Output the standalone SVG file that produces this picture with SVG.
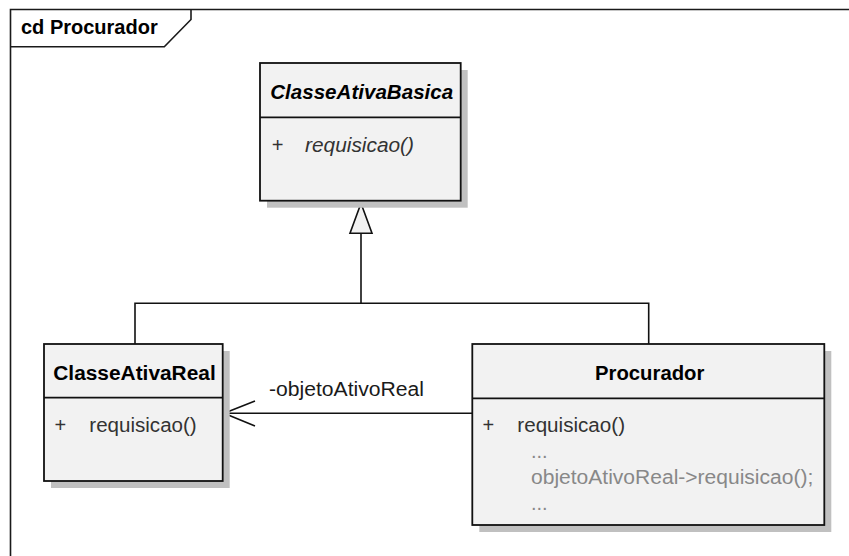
<svg xmlns="http://www.w3.org/2000/svg" width="849" height="556" viewBox="0 0 849 556">
  <style>
    .frame { fill: none; stroke: #1a1a1a; stroke-width: 1.6; }
    .shadow { fill: #c0c0c0; stroke: none; }
    .box { fill: #f2f2f2; stroke: #111; stroke-width: 1.8; }
    .sep { stroke: #111; stroke-width: 1.8; }
    .edge { fill: none; stroke: #111; stroke-width: 1.6; }
    text { font-family: "Liberation Sans", Arial, sans-serif; font-size: 20px; }
    .title { font-weight: bold; fill: #000; text-anchor: middle; }
    .abstract { font-style: italic; }
    .member { fill: #333; }
    .code { fill: #888; }
    .label { fill: #1a1a1a; }
  </style>

  <!-- diagram frame with name tab -->
  <g id="frame">
    <path class="frame" d="M10.5 556 V9.5 H849"/>
    <path class="frame" d="M10.5 46.7 H164.3 L191 19.5 V9.5"/>
    <text x="21" y="34.3" font-weight="bold" textLength="136.7" lengthAdjust="spacingAndGlyphs">cd Procurador</text>
  </g>

  <!-- connectors -->
  <g id="connectors">
    <!-- generalization tree -->
    <path class="edge" d="M135 344 V303.3 H648.7 V344"/>
    <path class="edge" d="M361 303.3 V233.3"/>
    <polygon points="361,203.3 350,233.3 372,233.3" fill="#f2f2f2" stroke="#111" stroke-width="1.6"/>
    <!-- directed association -->
    <path class="edge" d="M472.3 413.3 H224"/>
    <path class="edge" d="M255 401 L224 413.3 L255 426"/>
    <text class="label" x="269" y="395.7" textLength="155" lengthAdjust="spacingAndGlyphs">-objetoAtivoReal</text>
  </g>

  <!-- abstract base class -->
  <g id="ClasseAtivaBasica">
    <rect class="shadow" x="267" y="70" width="200.7" height="137.7"/>
    <rect class="box" x="260" y="63" width="200.7" height="137.7"/>
    <line class="sep" x1="260" y1="117.3" x2="460.7" y2="117.3"/>
    <text class="title abstract" x="361.7" y="99.3" textLength="183" lengthAdjust="spacingAndGlyphs">ClasseAtivaBasica</text>
    <text class="member abstract" x="271.5" y="151.7">+</text>
    <text class="member abstract" x="305" y="151.7" textLength="109" lengthAdjust="spacingAndGlyphs">requisicao()</text>
  </g>

  <!-- concrete subject -->
  <g id="ClasseAtivaReal">
    <rect class="shadow" x="51" y="351" width="178.7" height="137"/>
    <rect class="box" x="44" y="344" width="178.7" height="137"/>
    <line class="sep" x1="44" y1="397.7" x2="222.7" y2="397.7"/>
    <text class="title" x="134.5" y="380" textLength="162.4" lengthAdjust="spacingAndGlyphs">ClasseAtivaReal</text>
    <text class="member" x="54.5" y="431.7">+</text>
    <text class="member" x="89.3" y="431.7" textLength="107.4" lengthAdjust="spacingAndGlyphs">requisicao()</text>
  </g>

  <!-- proxy -->
  <g id="Procurador">
    <rect class="shadow" x="479.3" y="351" width="352" height="181"/>
    <rect class="box" x="472.3" y="344" width="352" height="181"/>
    <line class="sep" x1="472.3" y1="398.3" x2="824.3" y2="398.3"/>
    <text class="title" x="649.7" y="380" textLength="109.3" lengthAdjust="spacingAndGlyphs">Procurador</text>
    <text class="member" x="482.5" y="431.7">+</text>
    <text class="member" x="517.3" y="431.7" textLength="107.7" lengthAdjust="spacingAndGlyphs">requisicao()</text>
    <text class="code" x="531" y="457.7">...</text>
    <text class="code" x="531" y="484" textLength="282.3" lengthAdjust="spacingAndGlyphs">objetoAtivoReal-&gt;requisicao();</text>
    <text class="code" x="531" y="510">...</text>
  </g>
</svg>
